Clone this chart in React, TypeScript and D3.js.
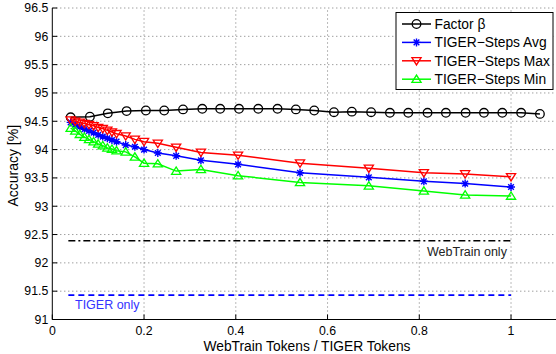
import React, { useEffect, useRef } from 'react';
import * as d3 from 'd3';

// x positions of the Factor beta runs
const betaX = [0.04, 0.082, 0.121, 0.162, 0.204, 0.244, 0.285, 0.327, 0.366, 0.407, 0.449, 0.491, 0.531,
  0.571, 0.614, 0.653, 0.695, 0.736, 0.776, 0.818, 0.858, 0.901, 0.941, 0.981, 1.022, 1.063];
const betaY = [94.57, 94.58, 94.64, 94.68, 94.69, 94.69, 94.71, 94.72, 94.72, 94.72, 94.72, 94.72, 94.71,
  94.69, 94.66, 94.67, 94.66, 94.65, 94.65, 94.65, 94.65, 94.65, 94.65, 94.65, 94.65, 94.63];

// x positions of the TIGER-Steps runs
const stepsX = [0.04, 0.05, 0.06, 0.07, 0.08, 0.09, 0.10, 0.11, 0.12, 0.13, 0.14, 0.16, 0.18, 0.20,
  0.23, 0.27, 0.324, 0.405, 0.54, 0.69, 0.81, 0.9, 1.0];
const avgY = [94.48, 94.44, 94.40, 94.36, 94.33, 94.30, 94.26, 94.23, 94.20, 94.17, 94.14, 94.08, 94.05, 94.00,
  93.94, 93.89, 93.81, 93.74, 93.59, 93.51, 93.44, 93.40, 93.34];
const maxY = [94.52, 94.50, 94.48, 94.46, 94.44, 94.42, 94.39, 94.37, 94.34, 94.31, 94.28, 94.24, 94.18, 94.14,
  94.11, 94.04, 93.95, 93.90, 93.76, 93.67, 93.59, 93.57, 93.52];
const minY = [94.38, 94.33, 94.27, 94.22, 94.18, 94.14, 94.10, 94.07, 94.03, 94.01, 93.98, 93.96, 93.87, 93.76,
  93.75, 93.62, 93.65, 93.54, 93.42, 93.36, 93.27, 93.20, 93.18];

// baselines
const webTrainOnly = 92.39;
const tigerOnly = 91.43;
const baselineX = [0.035, 1.0];

const xTicks = [0, 0.2, 0.4, 0.6, 0.8, 1];
const yTicks = [91, 91.5, 92, 92.5, 93, 93.5, 94, 94.5, 95, 95.5, 96, 96.5];

const FONT = 'Liberation Sans, Arial, Helvetica, sans-serif';

const App = () => {
  const svgRef = useRef<SVGSVGElement>(null);

  useEffect(() => {
    const width = 556;
    const height = 354;
    const svg = d3.select(svgRef.current).attr('width', width).attr('height', height);
    svg.selectAll('*').remove();

    const x = d3.scaleLinear().domain([0, 1.1]).range([52.3, 556.9]);
    const y = d3.scaleLinear().domain([91, 96.5]).range([319.5, 8]);

    svg.append('rect').attr('width', width).attr('height', height).attr('fill', '#fff');

    // dotted grid
    const grid = svg.append('g').attr('stroke', '#666').attr('stroke-width', 0.9)
      .attr('stroke-dasharray', '1,3');
    yTicks.slice(1).forEach(t => {
      grid.append('line').attr('x1', x(0)).attr('x2', x(1.1))
        .attr('y1', y(t)).attr('y2', y(t));
    });
    xTicks.slice(1).forEach(t => {
      grid.append('line').attr('x1', x(t)).attr('x2', x(t))
        .attr('y1', y(91)).attr('y2', y(96.5));
    });

    // axes lines
    svg.append('line').attr('x1', x(0)).attr('x2', x(0)).attr('y1', y(96.5)).attr('y2', y(91))
      .attr('stroke', '#000').attr('stroke-width', 1);
    svg.append('line').attr('x1', x(0)).attr('x2', x(1.1)).attr('y1', y(91)).attr('y2', y(91))
      .attr('stroke', '#000').attr('stroke-width', 1);

    // inward ticks
    yTicks.forEach(t => {
      svg.append('line').attr('x1', x(0)).attr('x2', x(0) + 5).attr('y1', y(t)).attr('y2', y(t))
        .attr('stroke', '#000').attr('stroke-width', 1);
      svg.append('text').attr('x', x(0) - 4).attr('y', y(t)).attr('dy', '0.35em')
        .attr('text-anchor', 'end').attr('font-family', FONT).attr('font-size', 12.3)
        .text(String(t));
    });
    xTicks.forEach(t => {
      svg.append('line').attr('x1', x(t)).attr('x2', x(t)).attr('y1', y(91)).attr('y2', y(91) - 5)
        .attr('stroke', '#000').attr('stroke-width', 1);
      svg.append('text').attr('x', x(t)).attr('y', y(91) + 15.5)
        .attr('text-anchor', 'middle').attr('font-family', FONT).attr('font-size', 12.3)
        .text(String(t));
    });

    // axis titles
    svg.append('text').attr('x', 307).attr('y', 350.5)
      .attr('text-anchor', 'middle').attr('font-family', FONT).attr('font-size', 13.8)
      .text('WebTrain Tokens / TIGER Tokens');
    svg.append('text').attr('transform', `translate(18,${(y(91) + y(96.5)) / 2 + 2}) rotate(-90)`)
      .attr('text-anchor', 'middle').attr('font-family', FONT).attr('font-size', 14)
      .text('Accuracy [%]');

    // baselines
    svg.append('line').attr('x1', x(baselineX[0])).attr('x2', x(baselineX[1]))
      .attr('y1', y(webTrainOnly)).attr('y2', y(webTrainOnly))
      .attr('stroke', '#000').attr('stroke-width', 1.6).attr('stroke-dasharray', '7,3,2,3');
    svg.append('line').attr('x1', x(baselineX[0])).attr('x2', x(baselineX[1]))
      .attr('y1', y(tigerOnly)).attr('y2', y(tigerOnly))
      .attr('stroke', '#0000ff').attr('stroke-width', 1.6).attr('stroke-dasharray', '6,4');
    svg.append('text').attr('x', 427).attr('y', 256).attr('font-family', FONT).attr('font-size', 12.5)
      .attr('fill', '#222').text('WebTrain only');
    svg.append('text').attr('x', 75).attr('y', 309).attr('font-family', FONT).attr('font-size', 12.5)
      .attr('fill', '#3333ff').text('TIGER only');

    const line = d3.line<[number, number]>().x(d => x(d[0])).y(d => y(d[1]));

    const drawMarker = (g: any, kind: string, cx: number, cy: number, color: string) => {
      if (kind === 'circle') {
        g.append('circle').attr('cx', cx).attr('cy', cy).attr('r', 4.3)
          .attr('fill', 'none').attr('stroke', color).attr('stroke-width', 1.3);
      } else if (kind === 'star') {
        const r = 4;
        const p = d3.path();
        [0, 45, 90, 135].forEach(a => {
          const rad = (a * Math.PI) / 180;
          p.moveTo(cx - r * Math.cos(rad), cy - r * Math.sin(rad));
          p.lineTo(cx + r * Math.cos(rad), cy + r * Math.sin(rad));
        });
        g.append('path').attr('d', p.toString()).attr('stroke', color).attr('stroke-width', 1.4);
      } else {
        const s = 4.6;
        const dir = kind === 'down' ? 1 : -1;
        const pts = [[cx - s, cy - dir * s * 0.7], [cx + s, cy - dir * s * 0.7], [cx, cy + dir * s * 0.9]];
        g.append('path').attr('d', 'M' + pts.map(p => p.join(',')).join('L') + 'Z')
          .attr('fill', 'none').attr('stroke', color).attr('stroke-width', 1.3);
      }
    };

    const series = [
      { name: 'Factor β', xs: betaX, ys: betaY, color: '#000000', marker: 'circle' },
      { name: 'TIGER−Steps Avg', xs: stepsX, ys: avgY, color: '#0000ff', marker: 'star' },
      { name: 'TIGER−Steps Max', xs: stepsX, ys: maxY, color: '#ff0000', marker: 'down' },
      { name: 'TIGER−Steps Min', xs: stepsX, ys: minY, color: '#00ff00', marker: 'up' },
    ];

    series.forEach(s => {
      const pts: [number, number][] = s.xs.map((v, i) => [v, s.ys[i]]);
      const g = svg.append('g');
      g.append('path').attr('d', line(pts)).attr('fill', 'none')
        .attr('stroke', s.color).attr('stroke-width', 1.5);
      pts.forEach(p => drawMarker(g, s.marker, x(p[0]), y(p[1]), s.color));
    });

    // legend
    const lg = svg.append('g');
    lg.append('rect').attr('x', 396).attr('y', 12.5).attr('width', 157).attr('height', 77)
      .attr('fill', '#fff').attr('stroke', '#000').attr('stroke-width', 1);
    series.forEach((s, i) => {
      const ly = 24 + i * 18.4;
      lg.append('line').attr('x1', 402).attr('x2', 431).attr('y1', ly).attr('y2', ly)
        .attr('stroke', s.color).attr('stroke-width', 1.5);
      drawMarker(lg, s.marker, 416.5, ly, s.color);
      lg.append('text').attr('x', 434.5).attr('y', ly).attr('dy', '0.36em')
        .attr('font-family', FONT).attr('font-size', 13.8).text(s.name);
    });
  }, []);

  return (
    <div style={{ position: 'absolute', left: 0, top: 0 }}>
      <svg ref={svgRef} style={{ display: 'block' }} />
    </div>
  );
};

export default App;
